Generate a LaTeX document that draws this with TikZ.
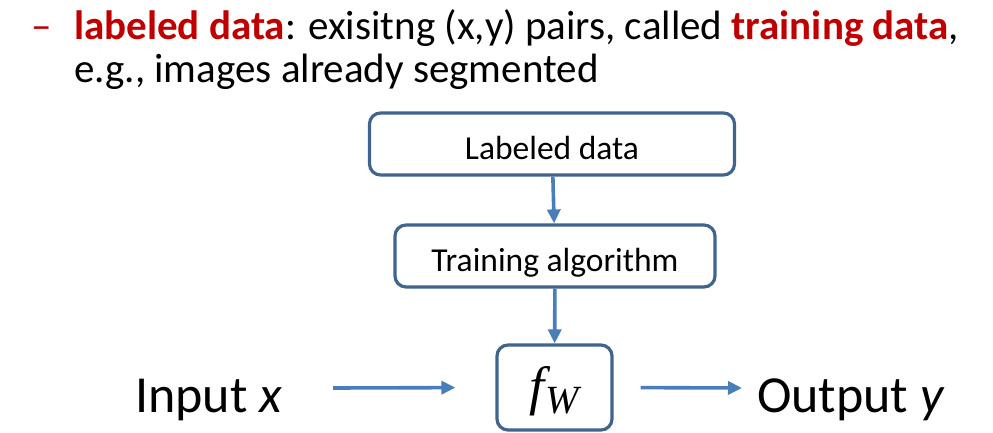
\documentclass[tikz,border=0pt]{standalone}
\usepackage{fontspec}
\setmainfont{Carlito}
\newfontfamily\formulafont{Liberation Serif}
\usetikzlibrary{positioning}
\usetikzlibrary{arrows.meta}
\definecolor{boxblue}{HTML}{41648F}
\definecolor{arrowblue}{HTML}{4A7EBB}
\definecolor{keyred}{HTML}{C00000}
\newcommand{\fwlabel}{{\formulafont\itshape f\kern1pt\raisebox{-9pt}{\fontsize{40}{40}\selectfont W}}}
\tikzset{x=1pt, y=-1pt, % one unit is one pixel of the slide
block/.style=
    { % Sets the properties for each box
        draw=boxblue,
        line width=3.2pt,
        rounded corners=11pt,
        font=\fontsize{33.5}{40}\selectfont,
        text height=30pt, text depth=0pt
    },
    heading/.style={inner sep=0pt, font=\fontsize{41}{48}\selectfont},
    big/.style={inner sep=0pt, font=\fontsize{52}{60}\selectfont},
    every edge/.style={ % Sets the properties for each arrow
        draw=arrowblue,
        -{Triangle[length=14pt,width=13pt]},
        line width=3.6pt
    }
}
\begin{document}
\begin{tikzpicture}
    \useasboundingbox (0,0) rectangle (993,433);
    \node[heading, anchor=base west] (dash) at (31,40) {\textcolor{keyred}{–}};
    \node[heading, anchor=base west] (line1) at (74,40)
        {\textbf{\textcolor{keyred}{labeled data}}: exisitng (x,y) pairs, called \textbf{\textcolor{keyred}{training data}},};
    \node[heading, anchor=base west] (line2) at (74,83) {e.g., images already segmented};
    \node[block, minimum width=365pt, minimum height=62pt] (data) at (552,144) {Labeled data};
    \node[block, minimum width=115pt, minimum height=85pt, text height=33pt,
          font=\fontsize{54}{60}\selectfont] (fw) at (554.5,387.5) {\fwlabel};
    \node[block, minimum width=320pt, minimum height=62pt] (train) at (555,256) {Training algorithm};
    \node[big, anchor=base west] (input) at (135,412) {Input \textit{x}};
    \node[big, anchor=base west] (output) at (757,412) {Output \textit{y}};
    \coordinate (xin) at (333,388);
    \coordinate (yout) at (742,388);
    \draw
    (data) edge (train)
    (train) edge (fw)
    (xin) edge[shorten >=40pt] (fw.west)
    (fw.east) edge[shorten <=27pt] (yout)
    ;
\end{tikzpicture}
\end{document}
